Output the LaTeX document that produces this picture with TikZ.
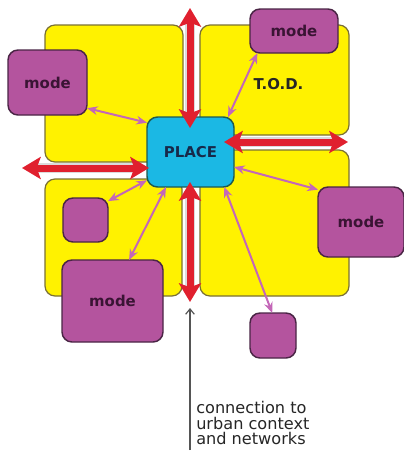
\documentclass[tikz,border=0pt]{standalone}
\usepackage{fontspec}
\setmainfont{DejaVu Sans}
\usetikzlibrary{arrows.meta}
\definecolor{blockyellow}{HTML}{FFF200}
\definecolor{blockedge}{HTML}{7A7035}
\definecolor{modefill}{HTML}{B4549E}
\definecolor{modeedge}{HTML}{4A2545}
\definecolor{modetext}{HTML}{3A1434}
\definecolor{placefill}{HTML}{1BB8E4}
\definecolor{placeedge}{HTML}{1F5A50}
\definecolor{placetext}{HTML}{17294A}
\definecolor{linkred}{HTML}{E0202E}
\definecolor{linkpink}{HTML}{C467B8}
\definecolor{pointer}{HTML}{555555}
\begin{document}
\begin{tikzpicture}[x=0.75pt,y=-0.75pt,
  sz/.style 2 args={minimum width=#1*0.75pt, minimum height=#2*0.75pt},
  block/.style={rectangle, inner sep=0pt, outer sep=0pt, rounded corners=7.5pt,
    fill=blockyellow, draw=blockedge, line width=0.9pt},
  modebox/.style={rectangle, inner sep=0pt, outer sep=0pt, rounded corners=7.5pt,
    fill=modefill, draw=modeedge, line width=1.1pt, text=modetext,
    font=\bfseries\fontsize{11.2}{13}\selectfont},
  placebox/.style={rectangle, inner sep=0pt, outer sep=0pt, rounded corners=8pt,
    fill=placefill, draw=placeedge, line width=1.1pt, text=placetext,
    font=\bfseries\fontsize{11.2}{13}\selectfont},
  shaftrim/.style={line width=7.5pt, white!72!gray, shorten <=12pt, shorten >=12pt},
  bigarrow/.style={line width=5.25pt, linkred,
    {Stealth[length=14pt,width=16.5pt,inset=3pt]}-{Stealth[length=14pt,width=16.5pt,inset=3pt]}},
  link/.style={line width=1.5pt, linkpink,
    {Stealth[length=8pt,width=6.5pt]}-{Stealth[length=8pt,width=6.5pt]}},
]
\useasboundingbox (0,0) rectangle (404,451);

% yellow development blocks
\node[block, sz={138}{137}] (blockTL) at (114,93.5) {};
\node[block, sz={149}{110}] (blockTR) at (274.5,80) {};
\node[block, sz={149}{146}] (blockBR) at (274.5,223) {};
\node[block, sz={137}{117}] (blockBL) at (113.5,237.5) {};

% transport modes
\node[modebox, sz={88}{44}] (modeTR) at (294,31) {mode};
\node[modebox, sz={79}{65}] (modeL) at (47.5,82.5) {mode};
\node[modebox, sz={86}{70}] (modeR) at (361,222) {mode};
\node[modebox, sz={45}{44}] (modeSL) at (85.5,220) {};
\node[modebox, sz={101}{82}] (modeBL) at (112.5,301) {mode};
\node[modebox, sz={46}{45}] (modeSR) at (273,335.5) {};

\node[font=\bfseries\fontsize{11.2}{13}\selectfont, text=black!85, anchor=west] (tod) at (249,84) {T.O.D.};

% the central place
\node[placebox, sz={87}{70}] (place) at (190.5,152) {PLACE};

% links between the place and the modes
\draw[link] (modeL.-33) -- (place.146);
\draw[link] (modeTR.211) -- (place.43);
\draw[link] (place.-19) -- (modeR.143);
\draw[link] (modeSL.40) -- (place.213);
\draw[link] (modeBL.68) -- (place.235);
\draw[link] (place.-46) -- (modeSR.92);

% main connections out of the place
\coordinate (upA) at (190,8);    \coordinate (upB) at (190,128);
\coordinate (rtA) at (224,142);  \coordinate (rtB) at (348,142);
\coordinate (lfA) at (22,168);   \coordinate (lfB) at (149,168);
\coordinate (dnA) at (190,182);  \coordinate (dnB) at (190,302);
\foreach \a/\b in {upA/upB, rtA/rtB, lfA/lfB, dnA/dnB} {
  \draw[shaftrim] (\a) -- (\b);
  \draw[bigarrow] (\a) -- (\b);
}

% caption
\coordinate (ptrFoot) at (190,450);
\coordinate (ptrTip) at (190,308);
\draw[pointer, line width=0.9pt, -{Straight Barb[length=4pt,width=6.5pt]}] (ptrFoot) -- (ptrTip);
\node[anchor=north west, align=left, inner sep=0pt, text=black!85,
  font=\fontsize{12.1}{11.7}\selectfont] (caption) at (196,401)
  {connection to\\urban context\\and networks};
\end{tikzpicture}
\end{document}
